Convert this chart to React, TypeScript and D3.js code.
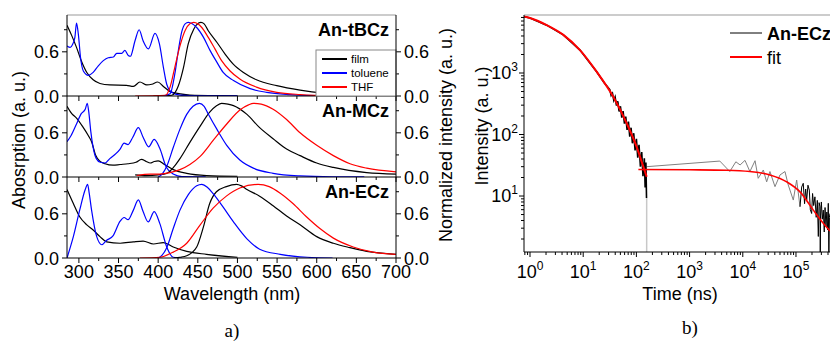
import React, { useEffect, useRef } from 'react';
import * as d3 from 'd3';

// ---- panel a) : absorption / emission spectra, [wavelength nm, normalized value]
const tbczFilmAbs = [[285,0.96],[291,0.82],[297,0.66],[303,0.48],[310,0.32],[318,0.22],[326.6,0.17],[339,0.15],[360,0.145],[368.7,0.13],[377,0.19],[385.6,0.15],[392,0.16],[399.4,0.19],[406.6,0.13],[415,0.06],[427.5,0.03],[440,0.012],[480,0.004],[500,0.002]];
const tbczTolAbs = [[285,0.68],[289,0.66],[292,0.7],[295,0.8],[297,0.99],[299.3,0.84],[302,0.53],[305.6,0.34],[312,0.28],[318,0.32],[324.5,0.41],[330.8,0.48],[337,0.52],[343.5,0.53],[347.7,0.58],[354,0.58],[358,0.62],[362.3,0.55],[365,0.54],[370.8,0.75],[376,0.9],[381,0.75],[387.7,0.64],[396,0.85],[401.5,0.71],[406.6,0.39],[410.8,0.16],[417,0.05],[427.5,0.012],[440,0.005],[500,0.002]];
const tbczFilmEm = [[394,0],[417,0.01],[425.5,0.14],[432,0.39],[438,0.71],[445,0.91],[451,0.99],[454,1.0],[458,0.98],[463,0.89],[474,0.73],[484.4,0.57],[495,0.43],[507.6,0.32],[524,0.22],[549.6,0.14],[579,0.08],[608.5,0.04],[642,0.02],[684,0.006],[700,0.004]];
const tbczTolEm = [[405,0],[415,0.03],[421,0.3],[425.5,0.62],[429.7,0.87],[434,0.98],[438,1.0],[443,0.98],[448.6,0.93],[457,0.8],[465.4,0.62],[474,0.46],[482,0.32],[495,0.21],[516,0.1],[537,0.05],[566,0.02],[600,0.005],[640,0.002]];
const tbczThfEm = [[371,0],[409,0.01],[415,0.12],[421,0.39],[427.5,0.68],[434,0.89],[440,0.98],[445,1.0],[450,0.98],[455,0.93],[463,0.8],[471.6,0.64],[480,0.48],[490.7,0.34],[503,0.23],[524,0.12],[549.6,0.05],[579,0.02],[620,0.005],[660,0.002]];

const mczFilmAbs = [[285,0.96],[291,0.86],[297,0.8],[305,0.68],[312,0.56],[316,0.48],[321,0.3],[326,0.22],[333,0.18],[343,0.16],[352,0.17],[362,0.18],[372,0.2],[379,0.24],[385,0.21],[390,0.19],[395,0.21],[400,0.22],[408,0.17],[419,0.1],[436,0.05],[461,0.02],[500,0.01]];
const mczTolAbs = [[285,0.48],[290,0.56],[297,0.72],[303,0.86],[308,0.92],[310.5,1.0],[312.5,0.88],[315,0.62],[318,0.4],[322,0.25],[327,0.2],[333,0.19],[339,0.25],[347,0.32],[352,0.38],[357,0.46],[362,0.44],[368,0.54],[375,0.67],[381,0.54],[388,0.41],[395,0.51],[402,0.39],[410,0.14],[419,0.04],[430,0.005],[460,0.002]];
const mczFilmEm = [[371,0.03],[385,0.02],[400,0.03],[410.8,0.05],[420,0.14],[427.5,0.25],[440,0.47],[453,0.69],[465,0.88],[474,0.97],[480,1.0],[488,0.99],[495,0.97],[512,0.85],[528,0.67],[545,0.52],[562,0.38],[579,0.29],[600,0.19],[621,0.13],[663,0.06],[700,0.04]];
const mczTolEm = [[400,0],[405,0.04],[411,0.15],[419,0.4],[427.5,0.65],[436,0.85],[444,0.96],[452,1.0],[458,0.96],[463,0.86],[474,0.65],[486.5,0.43],[503,0.23],[520,0.12],[545,0.05],[579,0.015],[620,0.003],[660,0.001]];
const mczThfEm = [[373,0.02],[390,0.04],[402,0.04],[415,0.06],[427.5,0.1],[440,0.17],[453,0.28],[469.6,0.5],[486.5,0.72],[503,0.91],[514,0.98],[520,1.0],[530,0.99],[545,0.92],[562,0.78],[579,0.6],[600,0.43],[621,0.29],[642,0.18],[663,0.12],[700,0.07]];

const eczFilmAbs = [[285,0.93],[293,0.74],[301,0.56],[310,0.45],[318,0.38],[326.6,0.29],[335,0.22],[352,0.2],[368.7,0.22],[381,0.23],[394,0.19],[406.5,0.21],[419,0.15],[436,0.09],[461,0.05],[500,0.01]];
const eczTolAbs = [[285,0],[293,0.29],[301,0.65],[308,0.93],[311,1.0],[313,0.88],[316,0.65],[322.5,0.29],[329,0.18],[335,0.24],[343,0.3],[352,0.5],[357,0.55],[362,0.52],[368.7,0.65],[375,0.79],[381,0.63],[387.5,0.49],[395,0.63],[402,0.47],[410.8,0.15],[419,0.01],[430,0]];
const eczFilmEm = [[420,0],[427.5,0.01],[436,0.03],[448.6,0.15],[457,0.42],[465,0.74],[473.5,0.9],[486,0.97],[499,1.0],[505,0.98],[512,0.93],[528,0.84],[545,0.71],[562,0.57],[579,0.45],[600,0.29],[621,0.2],[642,0.14],[663,0.09],[700,0.05]];
const eczTolEm = [[400,0],[405,0.04],[410.8,0.14],[419,0.4],[427.5,0.65],[438,0.86],[448.6,0.98],[455,1.0],[462,0.96],[469.6,0.87],[482,0.69],[495,0.49],[512,0.26],[528,0.12],[554,0.05],[588,0.01],[620,0]];
const eczThfEm = [[377,0],[402,0.01],[419,0.08],[436,0.2],[453,0.45],[469.6,0.68],[486,0.84],[503,0.95],[526,1.0],[540,0.97],[554,0.88],[570,0.74],[587,0.56],[604,0.4],[621,0.27],[646,0.15],[671,0.08],[700,0.05]];

const compounds = ['An-tBCz', 'An-MCz', 'An-ECz'];
const solvents = ['film', 'toluene', 'THF'];
const wlTicks = [300, 350, 400, 450, 500, 550, 600, 650, 700];
const normTicks = [0, 0.6];

// ---- panel b) : transient decay of An-ECz, [time ns, counts]
const decayData = [[0.771,8220],[1,7830],[2.06,6000],[4.23,4160],[8.7,2360],[17.9,1050],[25,690],[31.6,537],[33.5,432],[35.5,468],[37.6,359],[39.8,407],[42.2,295],[44.7,347],[47.3,237],[50.1,288],[53.1,188],[56.2,240],[59.6,150],[63.1,195],[66.8,119],[70.8,162],[75,92],[79.4,129],[84.1,72],[89.1,105],[94.4,55],[100,85],[106,42],[112,68],[119,30],[126,52],[133,21],[141,41],[146,13.8],[151,35],[155,9.3]];
const decayTail = [[156,30],[3700,37],[5700,25],[7400,36],[8900,32],[11000,38],[13600,25],[17000,37.5],[19500,19.4],[24300,26.5],[28100,17],[32400,25],[40300,14.2],[50000,22],[62100,25],[71600,15.1],[89000,8.6],[103000,18.2],[119000,6.7]];
const decayEnd = [[119000,6.7],[128000,14],[137000,16.1],[145000,7.5],[152000,13],[159000,8.6],[168000,15],[178000,12.5],[186000,6],[197000,5.2],[205000,11],[215000,7],[227000,9.7],[240000,4.5],[252000,8.5],[263000,2.2],[272000,7.8],[283000,6.7],[286000,1.0],[290000,4.9],[300000,8],[312000,4.2],[326000,5.9],[340000,2.6],[352000,6.5],[366000,3.2],[380000,5.5],[393000,2.8],[405000,7.6],[415000,1.0],[425000,4.5],[436000,5.2]];
const decayDrop = [[156,9.3],[156,1.0]];
const fitFast = [[0.771,8300],[1,7830],[2.06,6000],[4.23,4160],[8.7,2360],[17.9,1050],[36.8,410],[65.8,152],[101,63],[135,30],[156,20.6]];
const fitSlow = [[109,27],[1000,26.7],[4980,26.3],[13600,25],[32400,22],[67000,17],[119000,11.7],[212000,5.9],[326000,3.6],[436000,2.7]];
const timeExps = [0, 1, 2, 3, 4, 5];
const countExps = [1, 2, 3];

const FONT = 'Arial, "Liberation Sans", sans-serif';
const COLORS = { film: '#000000', toluene: '#0000ff', THF: '#ff0000' };

const App = () => {
  const svgRef = useRef(null);

  useEffect(() => {
    const svg = d3.select(svgRef.current);
    svg.selectAll('*').remove();
    svg.style('font-family', FONT);

    // ===== left: three stacked spectra panels =====
    const left = 67, right = 396, top = 15, panelH = 81;
    const x = d3.scaleLinear().domain([285, 700]).range([left, right]);
    const series = [
      [tbczFilmAbs, tbczTolAbs, tbczFilmEm, tbczTolEm, tbczThfEm],
      [mczFilmAbs, mczTolAbs, mczFilmEm, mczTolEm, mczThfEm],
      [eczFilmAbs, eczTolAbs, eczFilmEm, eczTolEm, eczThfEm]
    ];
    const seriesColor = [COLORS.film, COLORS.toluene, COLORS.film, COLORS.toluene, COLORS.THF];
    const defs = svg.append('defs');

    compounds.forEach((name, i) => {
      const y0 = top + i * panelH;
      const y1 = y0 + panelH;
      const y = d3.scaleLinear().domain([0, 1.1]).range([y1, y0]);
      const g = svg.append('g');

      defs.append('clipPath').attr('id', `clipA${i}`)
        .append('rect').attr('x', left).attr('y', y0).attr('width', right - left).attr('height', panelH);

      const line = d3.line().x(d => x(d[0])).y(d => y(d[1])).curve(d3.curveMonotoneX);
      const lines = g.append('g').attr('clip-path', `url(#clipA${i})`);
      series[i].forEach((data, k) => {
        lines.append('path')
          .attr('d', line(data))
          .attr('fill', 'none')
          .attr('stroke', seriesColor[k])
          .attr('stroke-width', 1.2);
      });

      // y ticks both sides
      [0.3, 0.9].forEach(v => {
        g.append('line').attr('x1', left - 3).attr('x2', left).attr('y1', y(v)).attr('y2', y(v)).attr('stroke', '#000');
        g.append('line').attr('x1', right).attr('x2', right + 3).attr('y1', y(v)).attr('y2', y(v)).attr('stroke', '#000');
      });
      normTicks.forEach(v => {
        g.append('line').attr('x1', left - 5).attr('x2', left).attr('y1', y(v)).attr('y2', y(v)).attr('stroke', '#000');
        g.append('line').attr('x1', right).attr('x2', right + 5).attr('y1', y(v)).attr('y2', y(v)).attr('stroke', '#000');
        g.append('text').attr('x', left - 8).attr('y', y(v) + 6.5).attr('text-anchor', 'end')
          .attr('font-size', 18).text(v.toFixed(1));
        g.append('text').attr('x', right + 8).attr('y', y(v) + 6.5).attr('text-anchor', 'start')
          .attr('font-size', 18).text(v.toFixed(1));
      });

      // x ticks at panel bottom
      wlTicks.forEach(t => {
        g.append('line').attr('x1', x(t)).attr('x2', x(t)).attr('y1', y1).attr('y2', y1 + 5).attr('stroke', '#000');
        if (t < 700) {
          g.append('line').attr('x1', x(t + 25)).attr('x2', x(t + 25)).attr('y1', y1).attr('y2', y1 + 3).attr('stroke', '#000');
        }
      });
      g.append('line').attr('x1', left).attr('x2', right).attr('y1', y1).attr('y2', y1).attr('stroke', '#000');

      g.append('text').attr('x', 389).attr('y', y0 + 21).attr('text-anchor', 'end')
        .attr('font-size', 18).attr('font-weight', 'bold').text(name);

      if (i === 0) {
        const lg = g.append('g');
        lg.append('rect').attr('x', 316).attr('y', 50).attr('width', 80).attr('height', 46)
          .attr('fill', '#fff').attr('stroke', '#888');
        solvents.forEach((s, k) => {
          const ly = 59 + k * 14;
          lg.append('line').attr('x1', 322).attr('x2', 347).attr('y1', ly).attr('y2', ly)
            .attr('stroke', COLORS[s]).attr('stroke-width', 2);
          lg.append('text').attr('x', 351).attr('y', ly + 4).attr('font-size', 11.5).text(s);
        });
      }
      if (i === 2) {
        wlTicks.forEach(t => {
          g.append('text').attr('x', x(t)).attr('y', 278).attr('text-anchor', 'middle')
            .attr('font-size', 18).text(t);
        });
      }
    });

    const bottomA = top + 3 * panelH;
    svg.append('line').attr('x1', left).attr('x2', right).attr('y1', top).attr('y2', top).attr('stroke', '#999');
    svg.append('line').attr('x1', left).attr('x2', left).attr('y1', top).attr('y2', bottomA).attr('stroke', '#000');
    svg.append('line').attr('x1', right).attr('x2', right).attr('y1', top).attr('y2', bottomA).attr('stroke', '#000');

    svg.append('text').attr('x', 232).attr('y', 300).attr('text-anchor', 'middle')
      .attr('font-size', 18).text('Wavelength (nm)');
    svg.append('text').attr('transform', 'translate(25,140) rotate(-90)').attr('text-anchor', 'middle')
      .attr('font-size', 18).text('Abosrption (a. u.)');
    svg.append('text').attr('transform', 'translate(452,135) rotate(-90)').attr('text-anchor', 'middle')
      .attr('font-size', 18).text('Normalized intensity (a. u.)');
    svg.append('text').attr('x', 232).attr('y', 337).attr('text-anchor', 'middle')
      .attr('font-family', '"Times New Roman", "Liberation Serif", serif').attr('font-size', 19).text('a)');

    // ===== right: decay on log-log axes =====
    const bL = 524, bR = 830, bT = 15, bB = 252;
    const xt = d3.scaleLog().domain([0.771, 4.36e5]).range([bL, bR]);
    const yi = d3.scaleLog().domain([1.23, 8770]).range([bB, bT]);
    const rb = svg.append('g');
    defs.append('clipPath').attr('id', 'clipB')
      .append('rect').attr('x', bL).attr('y', bT).attr('width', bR - bL).attr('height', bB - bT);
    const plot = rb.append('g').attr('clip-path', 'url(#clipB)');
    const lin = d3.line().x(d => xt(d[0])).y(d => yi(d[1]));
    const smooth = d3.line().x(d => xt(d[0])).y(d => yi(d[1])).curve(d3.curveMonotoneX);

    plot.append('path').attr('d', lin(decayDrop)).attr('fill', 'none').attr('stroke', '#c8c8c8').attr('stroke-width', 1.5);
    plot.append('path').attr('d', lin(decayTail)).attr('fill', 'none').attr('stroke', '#808080').attr('stroke-width', 1);
    plot.append('path').attr('d', lin(decayEnd)).attr('fill', 'none').attr('stroke', '#000').attr('stroke-width', 1);
    plot.append('path').attr('d', lin(decayData)).attr('fill', 'none').attr('stroke', '#000').attr('stroke-width', 1.6);
    plot.append('path').attr('d', smooth(fitFast)).attr('fill', 'none').attr('stroke', '#ff0000').attr('stroke-width', 2);
    plot.append('path').attr('d', smooth(fitSlow)).attr('fill', 'none').attr('stroke', '#ff0000').attr('stroke-width', 1.6);

    // axes lines
    rb.append('line').attr('x1', bL).attr('x2', bR).attr('y1', bT).attr('y2', bT).attr('stroke', '#999');
    rb.append('line').attr('x1', bL).attr('x2', bL).attr('y1', bT).attr('y2', bB).attr('stroke', '#000');
    rb.append('line').attr('x1', bL).attr('x2', bR).attr('y1', bB).attr('y2', bB).attr('stroke', '#000');

    // x ticks
    for (let e = -1; e <= 5; e++) {
      for (let m = 1; m <= 9; m++) {
        const v = m * Math.pow(10, e);
        if (v < 0.771 || v > 4.36e5) continue;
        const len = m === 1 ? 5 : 3;
        rb.append('line').attr('x1', xt(v)).attr('x2', xt(v)).attr('y1', bB).attr('y2', bB + len).attr('stroke', '#000');
      }
    }
    timeExps.forEach(e => {
      const t = rb.append('text').attr('x', xt(Math.pow(10, e))).attr('y', 278)
        .attr('text-anchor', 'middle').attr('font-size', 18);
      t.append('tspan').text('10');
      t.append('tspan').attr('dy', -8).attr('font-size', 12).text(e);
    });
    // y ticks
    for (let e = 0; e <= 3; e++) {
      for (let m = 1; m <= 9; m++) {
        const v = m * Math.pow(10, e);
        if (v < 1.23 || v > 8770) continue;
        const len = m === 1 ? 5 : 3;
        rb.append('line').attr('x1', bL - len).attr('x2', bL).attr('y1', yi(v)).attr('y2', yi(v)).attr('stroke', '#000');
      }
    }
    countExps.forEach(e => {
      const t = rb.append('text').attr('x', 518).attr('y', yi(Math.pow(10, e)) + 6)
        .attr('text-anchor', 'end').attr('font-size', 18);
      t.append('tspan').text('10');
      t.append('tspan').attr('dy', -8).attr('font-size', 12).text(e);
    });

    // legend
    rb.append('line').attr('x1', 730).attr('x2', 762).attr('y1', 33).attr('y2', 33).attr('stroke', '#000').attr('stroke-width', 1);
    rb.append('text').attr('x', 767).attr('y', 40).attr('font-size', 18).attr('font-weight', 'bold').text('An-ECz');
    rb.append('line').attr('x1', 730).attr('x2', 762).attr('y1', 57).attr('y2', 57).attr('stroke', '#ff0000').attr('stroke-width', 2);
    rb.append('text').attr('x', 767).attr('y', 64).attr('font-size', 18).text('fit');

    rb.append('text').attr('x', 680).attr('y', 300).attr('text-anchor', 'middle')
      .attr('font-size', 18).text('Time (ns)');
    rb.append('text').attr('transform', 'translate(488,126) rotate(-90)').attr('text-anchor', 'middle')
      .attr('font-size', 18).text('Intensity (a. u.)');
    rb.append('text').attr('x', 690).attr('y', 334).attr('text-anchor', 'middle')
      .attr('font-family', '"Times New Roman", "Liberation Serif", serif').attr('font-size', 19).text('b)');
  }, []);

  return (
    <svg
      ref={svgRef}
      width={830}
      height={341}
      style={{ position: 'absolute', left: 0, top: 0, background: '#fff' }}
    ></svg>
  );
};

export default App;
